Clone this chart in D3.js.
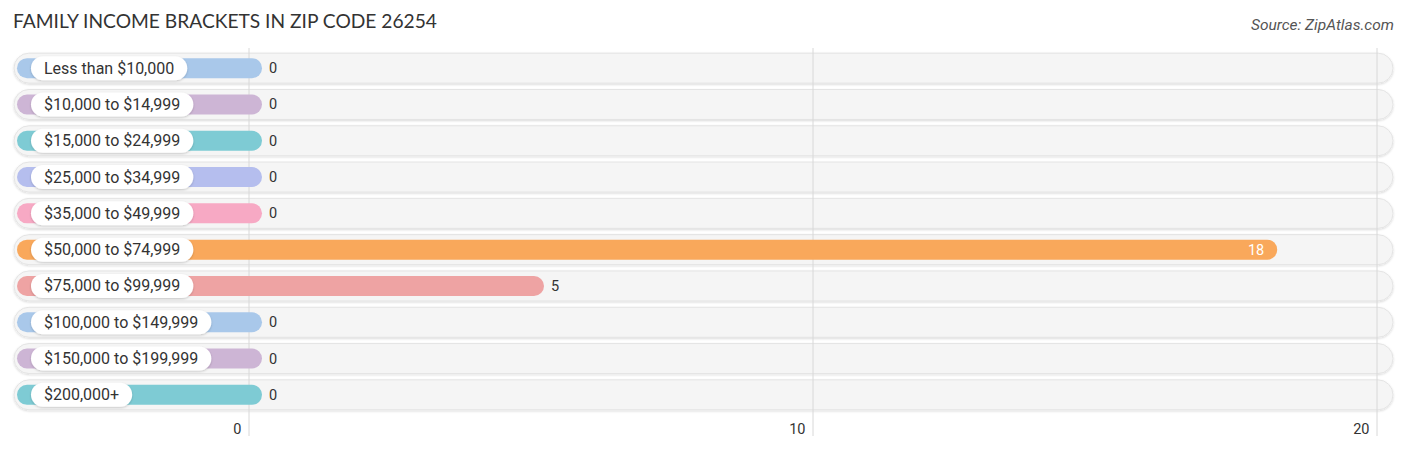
<!DOCTYPE html>
<html>
<head>
<meta charset="utf-8">
<script src="https://cdn.jsdelivr.net/npm/d3@7"></script>
<style>
html,body{margin:0;padding:0;background:#fff;}
svg{display:block;}
</style>
</head>
<body>
<svg id="chart" width="1406" height="450"></svg>
<script>
const categories = ["Less than $10,000","$10,000 to $14,999","$15,000 to $24,999","$25,000 to $34,999","$35,000 to $49,999","$50,000 to $74,999","$75,000 to $99,999","$100,000 to $149,999","$150,000 to $199,999","$200,000+"];
const values = [0,0,0,0,0,18,5,0,0,0];
const colors = ["#a9c8ea","#cdb5d5","#7ecbd4","#b5beee","#f7a9c4","#f9a85b","#eea3a3","#a9c8ea","#cdb5d5","#7ecbd4"];
const ticks = [0,10,20];
const title = "FAMILY INCOME BRACKETS IN ZIP CODE 26254";
const source = "Source: ZipAtlas.com";

const svg = d3.select("#chart");
const x = d3.scaleLinear().domain([0,20]).range([249,1377]);
const y = d3.scaleBand().domain(categories).range([50,413]).paddingInner(0).paddingOuter(0);

const defs = svg.append("defs");
const f = defs.append("filter").attr("id","sh").attr("x","-5%").attr("y","-30%").attr("width","110%").attr("height","160%");
f.append("feDropShadow").attr("dx",0).attr("dy",1).attr("stdDeviation",1.2).attr("flood-color","#000").attr("flood-opacity",0.15);
const f2 = defs.append("filter").attr("id","sh2").attr("x","-10%").attr("y","-30%").attr("width","120%").attr("height","160%");
f2.append("feDropShadow").attr("dx",0).attr("dy",1).attr("stdDeviation",1).attr("flood-color","#000").attr("flood-opacity",0.2);

svg.append("text").attr("x",13).attr("y",28).text(title)
  .attr("font-family","Lato, 'Open Sans', sans-serif").attr("font-size",19.2).attr("fill","#333");
svg.append("text").attr("x",1394).attr("y",30).attr("text-anchor","end").text(source)
  .attr("font-family","Roboto, sans-serif").attr("font-style","italic").attr("font-size",15.5).attr("fill","#555");

const rows = svg.append("g");
const trackH = 30, barH = 20;
const row = rows.selectAll("g.row").data(categories).join("g").attr("class","row")
  .attr("transform", d => `translate(0,${y(d)+y.bandwidth()/2})`);

row.append("rect").attr("x",14).attr("y",-trackH/2).attr("width",1393-14).attr("height",trackH)
  .attr("rx",trackH/2).attr("fill","#f5f5f5").attr("stroke","#e4e4e4").attr("stroke-width",1).attr("filter","url(#sh)");

// gridlines
const grid = svg.append("g");
grid.selectAll("line").data(ticks).join("line")
  .attr("x1",d=>x(d)).attr("x2",d=>x(d)).attr("y1",48).attr("y2",436)
  .attr("stroke","#d8d8d8").attr("stroke-width",1);

const bars = svg.append("g");
const bRow = bars.selectAll("g").data(categories).join("g")
  .attr("transform", d => `translate(0,${y(d)+y.bandwidth()/2})`);
bRow.append("rect").attr("x",17).attr("y",-barH/2)
  .attr("width",(d,i)=>x(values[i])+13-17).attr("height",barH).attr("rx",barH/2)
  .attr("fill",(d,i)=>colors[i]);

// label pills
bRow.each(function(d,i){
  const g = d3.select(this);
  const t = g.append("text").attr("x",44).attr("y",5.5).text(d)
    .attr("font-family","Roboto, sans-serif").attr("font-size",16).attr("fill","#333");
  const w = t.node().getComputedTextLength();
  g.insert("rect","text").attr("x",31).attr("y",-12).attr("width",w+26).attr("height",24).attr("rx",12)
    .attr("fill","#fff").attr("filter","url(#sh2)");
});

// value labels
bRow.append("text")
  .attr("x",(d,i)=> values[i] > 10 ? x(values[i]) : x(values[i]) + 20)
  .attr("y",5)
  .attr("text-anchor",(d,i)=> values[i] > 10 ? "end" : "start")
  .attr("fill",(d,i)=> values[i] > 10 ? "#fff" : "#333")
  .attr("font-family","Roboto, sans-serif").attr("font-size",14.5)
  .text((d,i)=>values[i]);

// axis
const axis = svg.append("g").attr("transform","translate(0,431)")
  .call(d3.axisBottom(x).tickValues(ticks).tickSize(0).tickFormat(d3.format("d")));
axis.select(".domain").remove();
axis.selectAll("text").attr("text-anchor","end").attr("dx",-8).attr("dy",0)
  .attr("font-family","Roboto, sans-serif").attr("font-size",14.5).attr("fill","#333");
</script>
</body>
</html>
